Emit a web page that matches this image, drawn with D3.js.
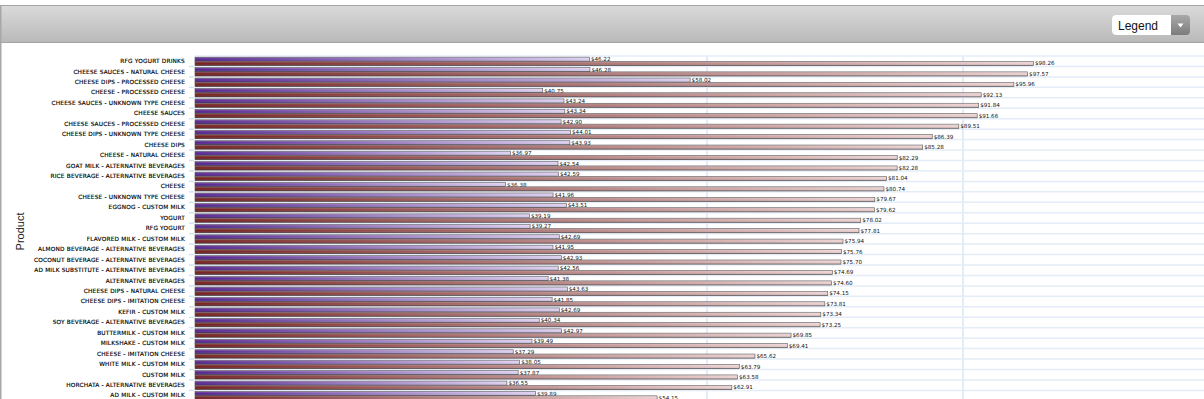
<!DOCTYPE html>
<html>
<head>
<meta charset="utf-8">
<script src="https://cdn.jsdelivr.net/npm/d3@7"></script>
<style>
  body { margin: 0; background: #fff; overflow: hidden; }
  svg { display: block; }
</style>
</head>
<body>
<svg id="chart"></svg>
<script>
const categories = [
  'RFG YOGURT DRINKS', 'CHEESE SAUCES - NATURAL CHEESE', 'CHEESE DIPS - PROCESSED CHEESE',
  'CHEESE - PROCESSED CHEESE', 'CHEESE SAUCES - UNKNOWN TYPE CHEESE', 'CHEESE SAUCES',
  'CHEESE SAUCES - PROCESSED CHEESE', 'CHEESE DIPS - UNKNOWN TYPE CHEESE', 'CHEESE DIPS',
  'CHEESE - NATURAL CHEESE', 'GOAT MILK - ALTERNATIVE BEVERAGES', 'RICE BEVERAGE - ALTERNATIVE BEVERAGES',
  'CHEESE', 'CHEESE - UNKNOWN TYPE CHEESE', 'EGGNOG - CUSTOM MILK', 'YOGURT', 'RFG YOGURT',
  'FLAVORED MILK - CUSTOM MILK', 'ALMOND BEVERAGE - ALTERNATIVE BEVERAGES',
  'COCONUT BEVERAGE - ALTERNATIVE BEVERAGES', 'AD MILK SUBSTITUTE - ALTERNATIVE BEVERAGES',
  'ALTERNATIVE BEVERAGES', 'CHEESE DIPS - NATURAL CHEESE', 'CHEESE DIPS - IMITATION CHEESE',
  'KEFIR - CUSTOM MILK', 'SOY BEVERAGE - ALTERNATIVE BEVERAGES', 'BUTTERMILK - CUSTOM MILK',
  'MILKSHAKE - CUSTOM MILK', 'CHEESE - IMITATION CHEESE', 'WHITE MILK - CUSTOM MILK',
  'CUSTOM MILK', 'HORCHATA - ALTERNATIVE BEVERAGES', 'AD MILK - CUSTOM MILK'
];

// first (purple) series
const series1 = [
  46.22, 46.28, 58.02, 40.75, 43.24, 43.34, 42.90, 44.01, 43.93, 36.97, 42.54,
  42.59, 36.38, 41.96, 43.51, 39.19, 39.27, 42.69, 41.95, 42.93, 42.56, 41.38,
  43.63, 41.85, 42.69, 40.34, 42.97, 39.49, 37.29, 38.05, 37.87, 36.55, 39.89
];

// second (brown) series
const series2 = [
  98.26, 97.57, 95.96, 92.13, 91.84, 91.66, 89.51, 86.39, 85.28, 82.29, 82.28,
  81.04, 80.74, 79.67, 79.62, 78.02, 77.81, 75.94, 75.76, 75.70, 74.69, 74.60,
  74.15, 73.81, 73.34, 73.25, 69.85, 69.41, 65.62, 63.79, 63.58, 62.91, 54.15
];

const xTicks = [0, 30, 60, 90, 120];

const W = 1204, H = 399;
const plot = { left: 195, top: 56, right: 1219, step: 10.45 };

const svg = d3.select('#chart').attr('width', W).attr('height', H);
const defs = svg.append('defs');

function hGrad(id, from, to) {
  const g = defs.append('linearGradient').attr('id', id)
    .attr('x1', 0).attr('y1', 0).attr('x2', 1).attr('y2', 0);
  g.append('stop').attr('offset', '0%').attr('stop-color', from);
  g.append('stop').attr('offset', '100%').attr('stop-color', to);
}
hGrad('gPurple', '#55248f', '#ddd0f0');
hGrad('gBrown', '#742020', '#ecd2d2');

const gloss = defs.append('linearGradient').attr('id', 'gloss')
  .attr('x1', 0).attr('y1', 0).attr('x2', 0).attr('y2', 1);
gloss.append('stop').attr('offset', '0%').attr('stop-color', '#fff').attr('stop-opacity', 0.25);
gloss.append('stop').attr('offset', '45%').attr('stop-color', '#fff').attr('stop-opacity', 0);
gloss.append('stop').attr('offset', '100%').attr('stop-color', '#000').attr('stop-opacity', 0.25);

const hdr = defs.append('linearGradient').attr('id', 'hdr')
  .attr('x1', 0).attr('y1', 0).attr('x2', 0).attr('y2', 1);
hdr.append('stop').attr('offset', '0%').attr('stop-color', '#dadada');
hdr.append('stop').attr('offset', '100%').attr('stop-color', '#b9b9b9');

const btn = defs.append('linearGradient').attr('id', 'btn')
  .attr('x1', 0).attr('y1', 0).attr('x2', 0).attr('y2', 1);
btn.append('stop').attr('offset', '0%').attr('stop-color', '#a9a9a9');
btn.append('stop').attr('offset', '100%').attr('stop-color', '#7c7c7c');

// header bar
svg.append('rect').attr('x', 0.5).attr('y', 5.5).attr('width', W).attr('height', 37)
  .attr('fill', 'url(#hdr)').attr('stroke', '#a3a3a3');
svg.append('line').attr('x1', 0.5).attr('x2', 0.5).attr('y1', 5).attr('y2', H)
  .attr('stroke', '#a8a8a8').attr('stroke-width', 2);

// legend dropdown
const lg = svg.append('g').attr('transform', 'translate(1112,15)');
lg.append('rect').attr('width', 78).attr('height', 20).attr('rx', 4)
  .attr('fill', 'url(#btn)');
lg.append('path').attr('d', 'M4,0H59V20H4A4,4 0 0 1 0,16V4A4,4 0 0 1 4,0Z').attr('fill', '#fff');
lg.append('text').attr('x', 6).attr('y', 14.5).attr('font-family', 'Arial, "Liberation Sans", sans-serif')
  .attr('font-size', 12).attr('fill', '#111').text('Legend');
lg.append('path').attr('d', 'M65.5,8.5h6l-3,4z').attr('fill', '#fff');

// scales
const x = d3.scaleLinear().domain([0, 120]).range([plot.left, plot.right]);
const y = d3.scaleBand().domain(categories)
  .range([plot.top, plot.top + plot.step * categories.length]);
const inner = d3.scaleBand().domain([0, 1]).range([1, y.bandwidth() - 0.7]).padding(0.04);

// grid
const grid = svg.append('g').attr('class', 'grid');
grid.selectAll('line.h').data(categories.concat(['_end']))
  .join('line').attr('class', 'h')
  .attr('x1', plot.left).attr('x2', W)
  .attr('y1', (d, i) => plot.top + i * y.step()).attr('y2', (d, i) => plot.top + i * y.step())
  .attr('stroke', '#e4ecf7').attr('stroke-width', 1.5);
grid.selectAll('line.v').data(xTicks.slice(1))
  .join('line').attr('class', 'v')
  .attr('x1', d => x(d)).attr('x2', d => x(d))
  .attr('y1', plot.top).attr('y2', H)
  .attr('stroke', '#e4ecf7').attr('stroke-width', 2);

// y axis
const yAxis = svg.append('g').attr('transform', `translate(${plot.left - 1},0)`)
  .call(d3.axisLeft(y).tickSize(0).tickPadding(9));
yAxis.select('.domain').remove();
yAxis.selectAll('text')
  .attr('font-family', '"DejaVu Sans", Verdana, sans-serif')
  .attr('font-size', 5.8).attr('fill', '#000')
  .attr('stroke', '#000').attr('stroke-width', 0.15)
  .attr('letter-spacing', 0.2);
svg.append('g').selectAll('line').data(categories)
  .join('line')
  .attr('x1', plot.left - 6).attr('x2', plot.left - 1)
  .attr('y1', d => y(d) + y.bandwidth()).attr('y2', d => y(d) + y.bandwidth())
  .attr('stroke', '#d3e2f3').attr('stroke-width', 1.5);

svg.append('text').attr('transform', `translate(24,${plot.top + (H - plot.top) / 2 + 4}) rotate(-90)`)
  .attr('text-anchor', 'middle').attr('font-family', 'Arial, "Liberation Sans", sans-serif')
  .attr('font-size', 11).attr('fill', '#222').text('Product');

// bars
const rows = categories.map((c, i) => ({ cat: c, vals: [series1[i], series2[i]] }));
const fills = ['url(#gPurple)', 'url(#gBrown)'];

const groups = svg.append('g').selectAll('g').data(rows).join('g')
  .attr('transform', d => `translate(0,${y(d.cat)})`);

const bar = groups.selectAll('g').data(d => d.vals.map((v, k) => ({ v, k }))).join('g');
bar.append('rect')
  .attr('x', x(0)).attr('y', d => inner(d.k))
  .attr('width', d => x(d.v) - x(0)).attr('height', inner.bandwidth())
  .attr('fill', d => fills[d.k]).attr('stroke', '#4a4a4a').attr('stroke-width', 0.6);
bar.append('rect')
  .attr('x', x(0)).attr('y', d => inner(d.k))
  .attr('width', d => x(d.v) - x(0)).attr('height', inner.bandwidth())
  .attr('fill', 'url(#gloss)');
bar.append('text')
  .attr('x', d => x(d.v) + 1.5).attr('y', d => inner(d.k) + inner.bandwidth() / 2)
  .attr('dy', '0.35em')
  .attr('font-family', '"DejaVu Sans", Verdana, sans-serif')
  .attr('font-size', 5.6).attr('fill', '#111')
  .text(d => '$' + d.v.toFixed(2));
</script>
</body>
</html>
